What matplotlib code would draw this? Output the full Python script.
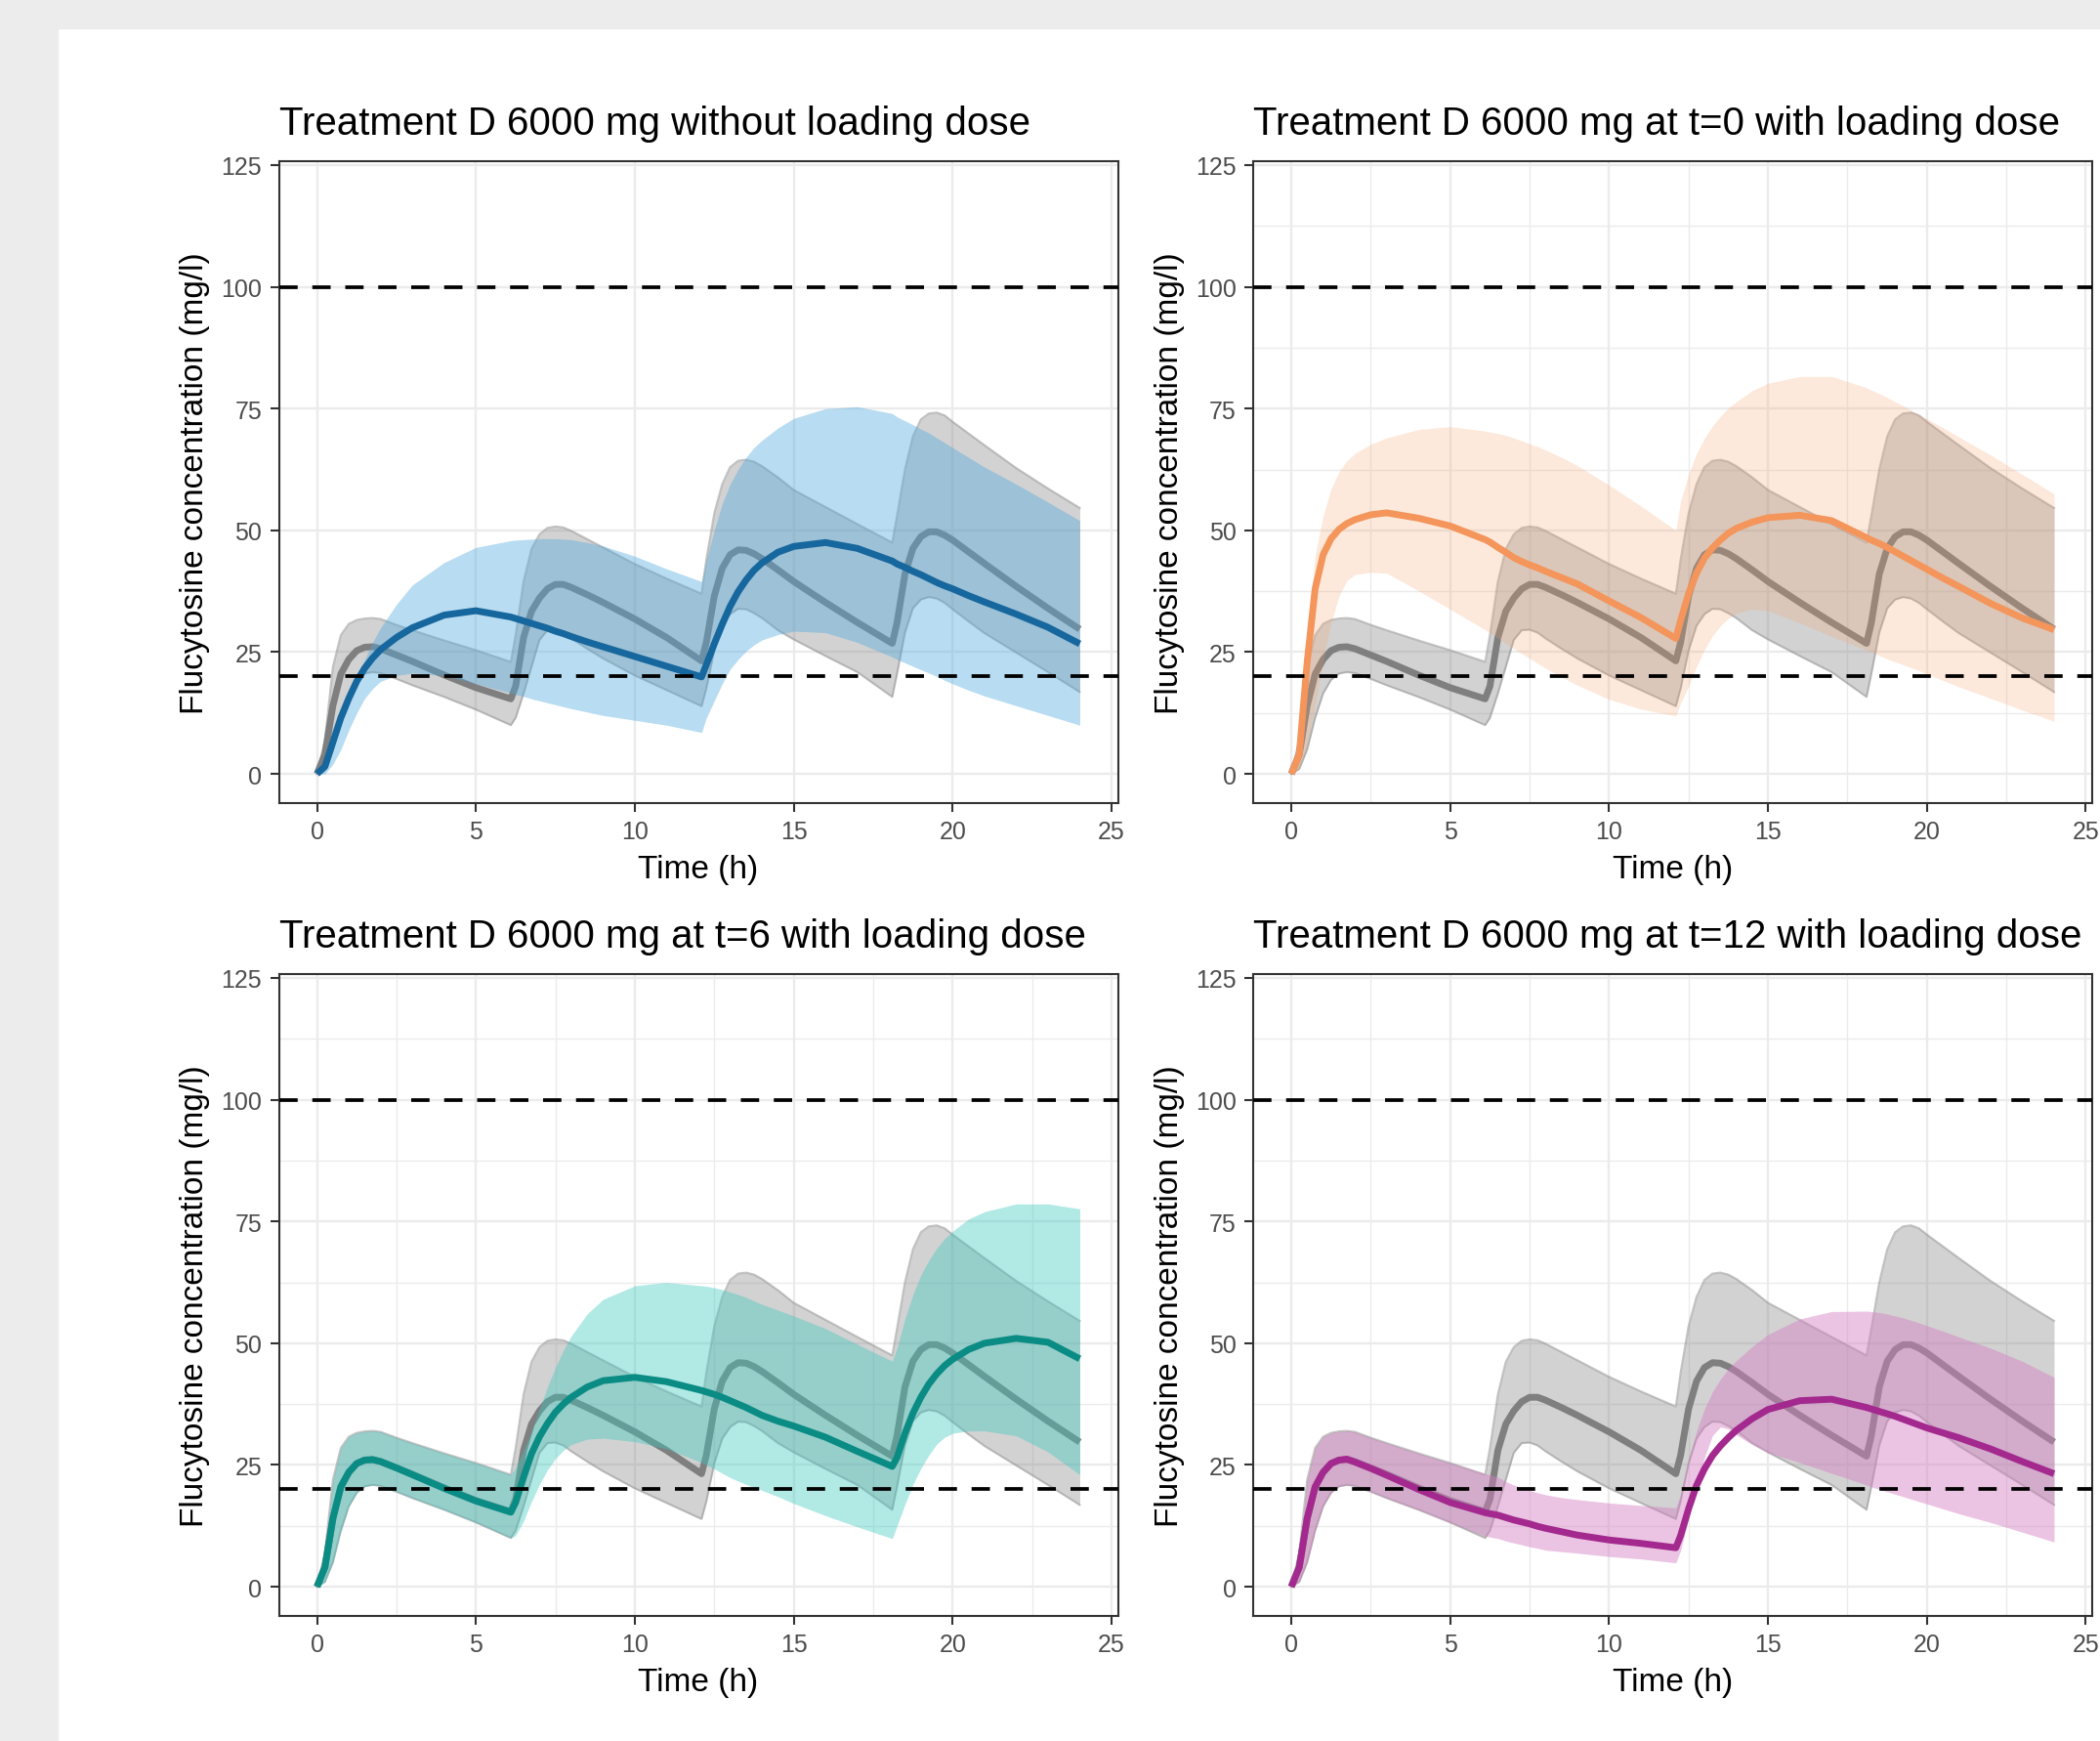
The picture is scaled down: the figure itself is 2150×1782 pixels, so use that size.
import matplotlib
matplotlib.use("Agg")
import matplotlib.pyplot as plt
from matplotlib.patches import Rectangle
from matplotlib.ticker import MultipleLocator

plt.rcParams['font.family'] = ['Liberation Sans', 'DejaVu Sans']

# ---------------- Data ----------------
time_h = [0, 0.25, 0.5, 0.75, 1, 1.25, 1.5, 1.75, 2, 2.5, 3, 4, 5,
          6.1, 6.25, 6.5, 6.75, 7, 7.25, 7.5, 7.75, 8, 8.5, 9, 10, 11,
          12.1, 12.25, 12.5, 12.75, 13, 13.25, 13.5, 13.75, 14, 14.5, 15, 16, 17,
          18.1, 18.25, 18.5, 18.75, 19, 19.25, 19.5, 19.75, 20, 20.5, 21, 22, 23, 24]

# grey reference (standard dosing), same in every panel
ref_median = [0, 4, 14, 20.5, 23.5, 25.3, 26, 26.1, 25.7, 24.4, 23.1, 20.3, 17.7,
              15.4, 18, 28, 33.4, 36.1, 38, 38.9, 38.9, 38.3, 36.8, 35.2, 31.8, 28,
              23.2, 27, 36.5, 42.2, 45, 46, 45.9, 45.2, 44.2, 41.9, 39.5, 35.2, 31.1,
              26.8, 31, 41, 46.3, 48.7, 49.7, 49.7, 49, 48, 45.6, 43.2, 38.5, 34, 29.7]
ref_upper = [0, 7, 22, 28.5, 30.8, 31.6, 31.9, 32, 31.8, 30.6, 29.5, 27.4, 25.4,
             23.0, 28.5, 39.5, 46.2, 49.2, 50.5, 50.8, 50.6, 49.9, 48.2, 46.5, 43.1, 40.1,
             37, 44, 53.5, 59.5, 63, 64.3, 64.5, 64.1, 63.2, 60.9, 58.3, 54.8, 51.3,
             47.5, 53, 62.5, 69.3, 72.8, 74, 74.2, 73.6, 72.3, 69.9, 67.5, 62.8, 58.6, 54.6]
ref_lower = [0, 1, 5, 11.5, 16.5, 19.3, 20.6, 20.9, 20.7, 19.5, 18.2, 15.8, 13.2,
             10.0, 11.5, 16.5, 22, 27.5, 29.5, 29.6, 29, 27.8, 25.7, 23.7, 20.2, 17.2,
             13.9, 17.5, 25.3, 30.4, 32.8, 33.9, 33.8, 33, 32, 29.5, 27.6, 24.2, 20.9,
             15.8, 20.5, 29, 34, 35.8, 36.3, 36, 35.1, 33.8, 31.3, 28.9, 24.9, 20.9, 16.8]

# without loading dose
noload_median = [0, 1.5, 6.5, 11.5, 15.5, 19, 21.7, 23.8, 25.5, 28, 30, 32.6, 33.5,
                 32.2, 31.9, 31.4, 30.9, 30.4, 29.9, 29.3, 28.8, 28.2, 27.1, 26.1, 24.1, 22.1,
                 19.9, 22.4, 26.7, 30.7, 34.4, 37.4, 39.8, 41.8, 43.3, 45.5, 46.7, 47.5, 46.3,
                 43.7, 43.1, 42.4, 41.6, 40.9, 40.1, 39.3, 38.6, 38, 36.6, 35.3, 32.8, 30.1, 26.7]
noload_upper = [0, 1, 5, 10, 15, 19.5, 23.5, 27, 30, 34.8, 38.8, 43.4, 46.5,
                47.9, 48, 48.1, 48.2, 48.3, 48.3, 48.3, 48.2, 48.1, 47.5, 46.8, 44.7, 42.1,
                39.5, 44, 50, 55.5, 59.5, 62.5, 65, 67, 68.5, 71, 73, 75, 75.4,
                74, 73.3, 72.5, 71.7, 70.8, 70, 69, 68, 67, 65, 63, 59.5, 55.8, 52]
noload_lower = [0, 0, 2, 5, 9, 12.5, 15.5, 17.5, 19, 20.2, 20.7, 20.2, 18.5,
                16.6, 16.3, 15.9, 15.4, 15, 14.6, 14.2, 13.8, 13.4, 12.7, 12, 11, 10,
                8.5, 11.5, 15, 18.5, 21.5, 23.5, 25.2, 26.5, 27.5, 28.6, 29.3, 29, 27,
                24, 23.5, 22.8, 22.1, 21.4, 20.7, 20, 19.2, 18.5, 17.2, 16, 14, 12, 10]

# loading dose at t=0
t0_median = [0, 4, 23, 38, 45, 48.3, 50.2, 51.4, 52.2, 53.2, 53.6, 52.5, 50.9,
             48.1, 47.6, 46.5, 45.5, 44.4, 43.6, 42.9, 42.3, 41.6, 40.3, 39, 35.5, 32.1,
             27.8, 31.5, 37, 41.2, 44.3, 46.4, 48, 49.4, 50.4, 51.7, 52.6, 53.1, 52,
             48.5, 48, 47.3, 46.5, 45.6, 44.7, 43.8, 42.9, 42, 40.2, 38.5, 35, 32, 29.6]
t0_upper = [0, 5, 28, 45, 53, 58.5, 62, 64.3, 65.8, 67.7, 69, 70.7, 71.3,
            70.4, 70.2, 69.9, 69.5, 69, 68.4, 67.8, 67.2, 66.5, 65, 63.3, 59.3, 55,
            50, 56, 61.5, 65.8, 68.9, 71.4, 73.4, 75.1, 76.4, 78.7, 80.2, 81.6, 81.6,
            79.3, 78.8, 78.1, 77.3, 76.4, 75.6, 74.7, 73.8, 72.9, 71.1, 69.2, 65.5, 61.5, 57.5]
t0_lower = [0, 1, 6, 14, 23, 31, 36.5, 39.7, 40.9, 41.4, 41.2, 37.6, 33.8,
            29.6, 29, 27.9, 26.8, 25.7, 24.7, 23.7, 22.7, 21.7, 19.9, 18.2, 15.3, 13.3,
            11.9, 14.5, 18, 22, 25.5, 28.3, 30.4, 31.9, 33, 33.8, 33.5, 31, 28.2,
            25.4, 25, 24.3, 23.6, 23, 22.4, 21.8, 21.2, 20.5, 19.2, 17.9, 15.5, 13.1, 10.8]

# loading dose at t=6
t6_median = [0, 4, 14, 20.5, 23.5, 25.3, 26, 26.1, 25.7, 24.4, 23, 20.2, 17.6,
             15.3, 17.3, 22.5, 27.3, 30.8, 33.5, 35.8, 37.5, 38.9, 41, 42.3, 43, 42.1,
             40.3, 40, 39.5, 38.9, 38.2, 37.5, 36.8, 36, 35.2, 34, 33, 30.7, 27.8,
             24.7, 26.5, 31.5, 35.6, 38.9, 41.6, 43.7, 45.4, 46.7, 48.7, 50, 51, 50.2, 46.8]
t6_upper = [0, 7, 22, 28.5, 30.8, 31.6, 31.9, 32, 31.8, 30.6, 29.5, 27.4, 25.4,
            23.0, 24.5, 28, 32, 36.5, 41, 45, 48.5, 51.5, 56, 59, 61.8, 62.5,
            61.8, 61.7, 61.4, 61, 60.5, 60, 59.4, 58.7, 58, 56.8, 55.6, 53, 49.8,
            46.3, 49, 55, 60, 64, 67, 69.5, 71.5, 73, 75.5, 77, 78.6, 78.6, 77.6]
t6_lower = [0, 1, 5, 11.5, 16.5, 19.3, 20.6, 20.9, 20.7, 19.5, 18.2, 15.8, 13.2,
            10, 10.5, 13.5, 17.5, 21, 24, 26.3, 28, 29.2, 30.3, 30.5, 29.8, 28.3,
            25.5, 25, 24.2, 23.3, 22.4, 21.7, 21, 20.4, 19.8, 18.5, 17.1, 14.6, 12.3,
            9.9, 12.5, 16.9, 21, 24.3, 27, 29.3, 30.7, 31.5, 32, 32, 31, 27.7, 23]

# loading dose at t=12
t12_median = [0, 4, 14, 20.5, 23.5, 25.3, 26, 26.2, 25.6, 24.3, 22.9, 20, 17.3,
              15.2, 15, 14.7, 14.2, 13.7, 13.3, 12.9, 12.4, 12, 11.3, 10.6, 9.6, 8.9,
              8, 10.5, 16, 20.8, 24.2, 26.9, 28.9, 30.6, 32.1, 34.5, 36.4, 38.2, 38.5,
              36.8, 36.5, 36, 35.5, 35, 34.4, 33.8, 33.2, 32.6, 31.6, 30.6, 28.3, 25.7, 23.2]
t12_upper = [0, 7, 22, 28.5, 30.8, 31.6, 31.9, 32, 31.8, 30.6, 29.5, 27.4, 25.4,
             23.2, 23, 22.5, 21.6, 20.9, 20.3, 19.8, 19.3, 18.9, 18.3, 17.9, 17.2, 16.7,
             16.2, 19, 26, 32, 36.5, 40, 42.6, 44.7, 46.4, 49.3, 51.8, 55, 56.5,
             56.6, 56.5, 56.3, 56, 55.6, 55.2, 54.7, 54.2, 53.6, 52.5, 51.3, 49, 46.3, 43]
t12_lower = [0, 1, 5, 11.5, 16.5, 19.3, 20.6, 20.9, 20.7, 19.5, 18.2, 15.8, 13.2,
             10.4, 10.2, 9.9, 9.4, 9, 8.6, 8.2, 7.9, 7.5, 7.2, 6.9, 6.2, 5.7,
             4.9, 7.5, 14, 21, 26.5, 31, 32.8, 32.4, 31.2, 29.2, 27.5, 25.5, 23.3,
             20.9, 20.5, 20, 19.5, 19, 18.5, 18, 17.5, 17, 16, 15, 13.2, 11.2, 9.2]

titles = ["Treatment D 6000 mg without loading dose",
          "Treatment D 6000 mg at t=0 with loading dose",
          "Treatment D 6000 mg at t=6 with loading dose",
          "Treatment D 6000 mg at t=12 with loading dose"]
thresholds = [20, 100]

# ---------------- Figure ----------------
W, H = 2150, 1783
fig = plt.figure(figsize=(W / 100, H / 100), dpi=100, facecolor="white")
fig.patches.append(Rectangle((0, 0), 59 / W, 1, transform=fig.transFigure,
                             color="#ECECEC", zorder=-5))
fig.patches.append(Rectangle((0, 1 - 30 / H), 1, 30 / H, transform=fig.transFigure,
                             color="#ECECEC", zorder=-5))

ax_w, ax_h = 859 / W, 657 / H
lefts = [285.5 / W, 1283 / W]
bottoms = [1 - 823 / H, 1 - 1655 / H]

panels = [
    (titles[0], noload_median, noload_lower, noload_upper, "#16679E", "#4FA9DD", 0.40, False),
    (titles[1], t0_median, t0_lower, t0_upper, "#F4955B", "#F7A46B", 0.24, True),
    (titles[2], t6_median, t6_lower, t6_upper, "#0A8C84", "#3CC8C0", 0.40, True),
    (titles[3], t12_median, t12_lower, t12_upper, "#A3298F", "#D57DC3", 0.45, True),
]

for i, (title, med, lo, hi, line_col, fill_col, fill_alpha, minor) in enumerate(panels):
    ax = fig.add_axes([lefts[i % 2], bottoms[i // 2], ax_w, ax_h])

    # grey reference ribbon + median
    ax.fill_between(time_h, ref_lower, ref_upper, color="#7F7F7F", alpha=0.35, lw=0, zorder=2)
    ax.plot(time_h, ref_upper, color="#8C8C8C", alpha=0.5, lw=1.5, zorder=2)
    ax.plot(time_h, ref_lower, color="#8C8C8C", alpha=0.5, lw=1.5, zorder=2)
    ax.plot(time_h, ref_median, color="#7F7F7F", lw=5, solid_capstyle="butt",
            solid_joinstyle="round", zorder=3)

    # scenario ribbon + median
    ax.fill_between(time_h, lo, hi, color=fill_col, alpha=fill_alpha, lw=0, zorder=4)
    ax.plot(time_h, med, color=line_col, lw=5, solid_capstyle="butt",
            solid_joinstyle="round", zorder=5)

    for y in thresholds:
        ax.axhline(y, color="black", lw=2.7, linestyle=(0, (5, 4)), zorder=6)

    ax.set_xlim(-1.2, 25.2)
    ax.set_ylim(-6.0, 125.8)
    ax.set_xticks([0, 5, 10, 15, 20, 25])
    ax.set_yticks([0, 25, 50, 75, 100, 125])
    ax.set_axisbelow(True)
    ax.grid(which="major", color="#EBEBEB", lw=1.7)
    if minor:
        ax.xaxis.set_minor_locator(MultipleLocator(2.5))
        ax.yaxis.set_minor_locator(MultipleLocator(12.5))
        ax.grid(which="minor", color="#EBEBEB", lw=1.0)
    ax.tick_params(which="minor", length=0)
    ax.tick_params(which="major", length=6.5, width=1.5, color="#333333",
                   labelsize=18, labelcolor="#4D4D4D", pad=6)
    for sp in ax.spines.values():
        sp.set_color("#333333")
        sp.set_linewidth(1.5)

    ax.set_title(title, loc="left", fontsize=29, pad=20, color="black")
    ax.set_xlabel("Time (h)", fontsize=24, labelpad=8)
    ax.set_ylabel("Flucytosine concentration (mg/l)", fontsize=24, labelpad=8)

fig.savefig("out.png", dpi=100, facecolor="white")
